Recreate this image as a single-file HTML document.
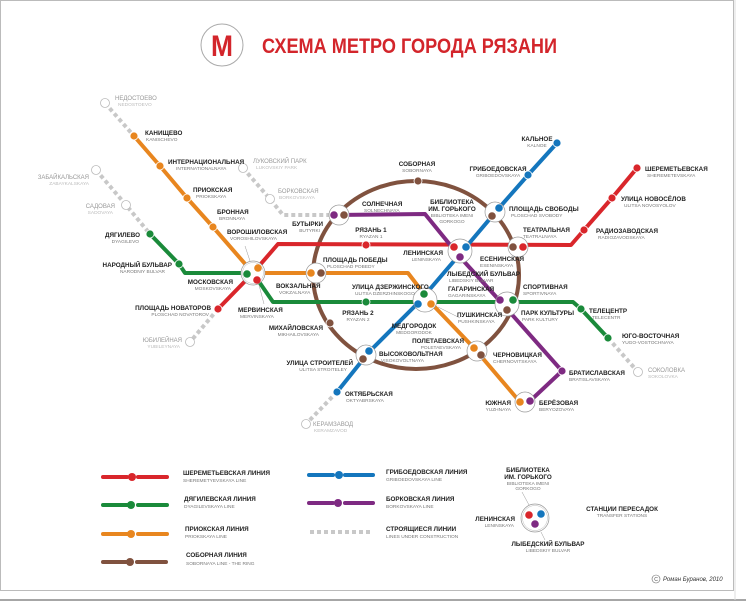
<!DOCTYPE html>
<html><head><meta charset="utf-8"><style>
html,body{margin:0;padding:0;background:#fff;}
svg{display:block;font-family:"Liberation Sans","DejaVu Sans",sans-serif;}
.n{font-size:6.3px;font-weight:bold;fill:#222;}
.s{font-size:4.8px;fill:#777;}
.g{font-size:6px;fill:#999;}
.gs{font-size:4.8px;fill:#bbb;}
.r{text-anchor:end;}
.c{text-anchor:middle;}
.ring{fill:#fff;stroke:#999;stroke-width:0.7;}
</style></head><body>
<svg width="746" height="604" viewBox="0 0 746 604" xmlns="http://www.w3.org/2000/svg">
<rect x="0.5" y="0.5" width="733" height="590" fill="#fff" stroke="#bbb" stroke-width="1"/>
<line x1="0" y1="600" x2="746" y2="600" stroke="#888" stroke-width="1.5"/>
<line x1="735" y1="0" x2="735" y2="600" stroke="#ddd" stroke-width="1"/>

<!-- title -->
<circle cx="222" cy="45" r="21" fill="#fff" stroke="#aaa" stroke-width="1"/>
<text x="222" y="56" text-anchor="middle" font-size="30" font-weight="bold" fill="#d3252b" textLength="22" lengthAdjust="spacingAndGlyphs">М</text>
<text x="262" y="53" font-size="21" font-weight="bold" fill="#d3252b" textLength="295" lengthAdjust="spacingAndGlyphs">СХЕМА МЕТРО ГОРОДА РЯЗАНИ</text>

<!-- construction lines -->
<g stroke="#c8c8c8" stroke-width="4" stroke-dasharray="4 3" fill="none">
<line x1="105" y1="103" x2="134" y2="136"/>
<polyline points="96,170 126,205 150,234"/>
<polyline points="243,168 270,199 283,215 333,215"/>
<line x1="218" y1="309" x2="190" y2="342"/>
<line x1="337" y1="392" x2="306" y2="424"/>
<line x1="608" y1="338" x2="638" y2="372"/>
</g>
<g fill="#fff" stroke="#bbb" stroke-width="0.8">
<circle cx="105" cy="103" r="4.5"/><circle cx="96" cy="170" r="4.5"/><circle cx="126" cy="205" r="4.5"/>
<circle cx="243" cy="168" r="4.5"/><circle cx="270" cy="199" r="4.5"/><circle cx="190" cy="342" r="4.5"/>
<circle cx="306" cy="424" r="4.5"/><circle cx="638" cy="372" r="4.5"/>
</g>

<!-- ring -->
<ellipse cx="416" cy="275" rx="103" ry="94" fill="none" stroke="#80523f" stroke-width="4"/>

<g fill="none" stroke-width="4" stroke-linejoin="round">
<polyline stroke="#e8861f" points="134,136 160,166 187,198 213,227 253,273 408,273 431,303 474,348 520,402"/>
<polyline stroke="#1a8a3a" points="150,234 179,264 185,273 253,273 273,302 573,302 581,309 608,338"/>
<polyline stroke="#d9262b" points="218,309 253,273 278,244 571,245 584,230 612,198 637,168"/>
<polyline stroke="#1476bd" points="557,143 528,175 499,208 466,247 418,303 369,352 337,392"/>
<polyline stroke="#7e2a82" points="334,215 425,214 460,257 499,300 562,371 530,401"/>
</g>

<g stroke="#fff" stroke-width="0.8">
<g fill="#e8861f"><circle cx="134" cy="136" r="4"/><circle cx="160" cy="166" r="4"/><circle cx="187" cy="198" r="4"/><circle cx="213" cy="227" r="4"/></g>
<g fill="#1a8a3a"><circle cx="150" cy="234" r="4"/><circle cx="179" cy="264" r="4"/><circle cx="366" cy="302" r="4"/><circle cx="581" cy="309" r="4"/><circle cx="608" cy="338" r="4"/></g>
<g fill="#d9262b"><circle cx="218" cy="309" r="4"/><circle cx="366" cy="245" r="4"/><circle cx="584" cy="230" r="4"/><circle cx="612" cy="198" r="4"/><circle cx="637" cy="168" r="4"/></g>
<g fill="#1476bd"><circle cx="557" cy="143" r="4"/><circle cx="528" cy="175" r="4"/><circle cx="337" cy="392" r="4"/></g>
<g fill="#7e2a82"><circle cx="562" cy="371" r="4"/></g>
<g fill="#80523f"><circle cx="418" cy="181" r="4"/><circle cx="330" cy="323" r="4"/></g>
</g>

<g>
<circle class="ring" cx="253" cy="273" r="12"/><circle cx="253" cy="273" r="10.5" fill="none" stroke="#bbb" stroke-width="0.5"/>
<circle cx="247" cy="274" r="3.8" fill="#1a8a3a"/><circle cx="258" cy="268" r="3.8" fill="#e8861f"/><circle cx="257" cy="280" r="3.8" fill="#d9262b"/>
<circle class="ring" cx="316" cy="273" r="10"/><circle cx="311" cy="273" r="3.8" fill="#e8861f"/><circle cx="321" cy="273" r="3.8" fill="#80523f"/>
<circle class="ring" cx="339" cy="215" r="10"/><circle cx="334" cy="215" r="3.8" fill="#7e2a82"/><circle cx="344" cy="215" r="3.8" fill="#80523f"/>
<circle class="ring" cx="495" cy="212" r="10"/><circle cx="499" cy="208" r="3.8" fill="#1476bd"/><circle cx="492" cy="216" r="3.8" fill="#80523f"/>
<circle class="ring" cx="518" cy="247" r="10"/><circle cx="513" cy="247" r="3.8" fill="#80523f"/><circle cx="523" cy="247" r="3.8" fill="#d9262b"/>
<circle class="ring" cx="460" cy="251" r="12"/><circle cx="454" cy="247" r="3.8" fill="#d9262b"/><circle cx="466" cy="247" r="3.8" fill="#1476bd"/><circle cx="460" cy="257" r="3.8" fill="#7e2a82"/>
<circle class="ring" cx="425" cy="300" r="12"/><circle cx="424" cy="294" r="3.8" fill="#1a8a3a"/><circle cx="418" cy="304" r="3.8" fill="#1476bd"/><circle cx="431" cy="304" r="3.8" fill="#e8861f"/>
<circle class="ring" cx="507" cy="304" r="12"/><circle cx="500" cy="300" r="3.8" fill="#7e2a82"/><circle cx="513" cy="300" r="3.8" fill="#1a8a3a"/><circle cx="507" cy="310" r="3.8" fill="#80523f"/>
<circle class="ring" cx="366" cy="355" r="10"/><circle cx="369" cy="351" r="3.8" fill="#1476bd"/><circle cx="363" cy="359" r="3.8" fill="#80523f"/>
<circle class="ring" cx="477" cy="351" r="10"/><circle cx="474" cy="348" r="3.8" fill="#e8861f"/><circle cx="481" cy="355" r="3.8" fill="#80523f"/>
<circle class="ring" cx="525" cy="402" r="10"/><circle cx="520" cy="402" r="3.8" fill="#e8861f"/><circle cx="530" cy="401" r="3.8" fill="#7e2a82"/>
</g>
<g stroke="#999" stroke-width="0.5"><line x1="245" y1="246" x2="250" y2="261"/><line x1="259" y1="285" x2="264" y2="304"/><line x1="438" y1="307" x2="460" y2="318"/></g>

<text class="g" x="115" y="100">НЕДОСТОЕВО</text><text class="gs" x="118" y="106">NEDOSTOEVO</text>
<text class="n" x="145" y="135">КАНИЩЕВО</text><text class="s" x="146" y="141">KANISCHEVO</text>
<text class="n" x="168" y="164">ИНТЕРНАЦИОНАЛЬНАЯ</text><text class="s" x="176" y="170">INTERNATIONALNAYA</text>
<text class="n" x="193" y="192">ПРИОКСКАЯ</text><text class="s" x="196" y="198">PRIOKSKAYA</text>
<text class="n" x="217" y="214">БРОННАЯ</text><text class="s" x="219" y="220">BRONNAYA</text>
<text class="n" x="227" y="234">ВОРОШИЛОВСКАЯ</text><text class="s" x="230" y="240">VOROSHILOVSKAYA</text>
<text class="g r" x="89" y="179">ЗАБАЙКАЛЬСКАЯ</text><text class="gs r" x="89" y="185">ZABAYKALSKAYA</text>
<text class="g r" x="115" y="208">САДОВАЯ</text><text class="gs r" x="113" y="214">SADOVAYA</text>
<text class="n r" x="140" y="237">ДЯГИЛЕВО</text><text class="s r" x="139" y="243">DYAGILEVO</text>
<text class="n r" x="172" y="267">НАРОДНЫЙ БУЛЬВАР</text><text class="s r" x="165" y="273">NARODNIY BULVAR</text>
<text class="n r" x="233" y="284">МОСКОВСКАЯ</text><text class="s r" x="231" y="290">MOSKOVSKAYA</text>
<text class="n r" x="211" y="310">ПЛОЩАДЬ НОВАТОРОВ</text><text class="s r" x="209" y="316">PLOSCHAD NOVATOROV</text>
<text class="g r" x="182" y="342">ЮБИЛЕЙНАЯ</text><text class="gs r" x="180" y="348">YUBILEYNAYA</text>
<text class="n" x="238" y="312">МЕРВИНСКАЯ</text><text class="s" x="240" y="318">MERVINSKAYA</text>
<text class="n" x="276" y="288">ВОКЗАЛЬНАЯ</text><text class="s" x="279" y="294">VOKZALNAYA</text>
<text class="g" x="253" y="163">ЛУКОВСКИЙ ПАРК</text><text class="gs" x="256" y="169">LUKOVSKIY PARK</text>
<text class="g" x="278" y="193">БОРКОВСКАЯ</text><text class="gs" x="279" y="199">BORKOVSKAYA</text>
<text class="n r" x="323" y="226">БУТЫРКИ</text><text class="s r" x="320" y="232">BUTYRKI</text>
<text class="n" x="362" y="206">СОЛНЕЧНАЯ</text><text class="s" x="364" y="212">SOLNECHNAYA</text>
<text class="n c" x="371" y="232">РЯЗАНЬ 1</text><text class="s c" x="371" y="238">RYAZAN 1</text>
<text class="n" x="323" y="262">ПЛОЩАДЬ ПОБЕДЫ</text><text class="s" x="327" y="268">PLOSCHAD POBEDY</text>
<text class="n" x="352" y="289">УЛИЦА ДЗЕРЖИНСКОГО</text><text class="s" x="355" y="295">ULITSA DZERZHINSKOGO</text>
<text class="n c" x="358" y="315">РЯЗАНЬ 2</text><text class="s c" x="358" y="321">RYAZAN 2</text>
<text class="n r" x="323" y="330">МИХАЙЛОВСКАЯ</text><text class="s r" x="319" y="336">MIKHAILOVSKAYA</text>
<text class="n r" x="353" y="365">УЛИЦА СТРОИТЕЛЕЙ</text><text class="s r" x="347" y="371">ULITSA STROITELEY</text>
<text class="n" x="345" y="396">ОКТЯБРЬСКАЯ</text><text class="s" x="346" y="402">OKTYABRSKAYA</text>
<text class="g" x="313" y="426">КЕРАМЗАВОД</text><text class="gs" x="314" y="432">KERAMZAVOD</text>
<text class="n c" x="417" y="166">СОБОРНАЯ</text><text class="s c" x="417" y="172">SOBORNAYA</text>
<text class="n c" x="537" y="141">КАЛЬНОЕ</text><text class="s c" x="537" y="147">KALNOE</text>
<text class="n c" x="498" y="171">ГРИБОЕДОВСКАЯ</text><text class="s c" x="498" y="177">GRIBOEDOVSKAYA</text>
<text class="n c" x="452" y="204">БИБЛИОТЕКА</text><text class="n c" x="452" y="211">ИМ. ГОРЬКОГО</text><text class="s c" x="452" y="217">BIBLIOTEKA IMENI</text><text class="s c" x="452" y="223">GORKOGO</text>
<text class="n" x="509" y="211">ПЛОЩАДЬ СВОБОДЫ</text><text class="s" x="511" y="217">PLOSCHAD SVOBODY</text>
<text class="n" x="523" y="232">ТЕАТРАЛЬНАЯ</text><text class="s" x="523" y="238">TEATRALNAYA</text>
<text class="n r" x="443" y="255">ЛЕНИНСКАЯ</text><text class="s r" x="441" y="261">LENINSKAYA</text>
<text class="n" x="480" y="261">ЕСЕНИНСКАЯ</text><text class="s" x="480" y="267">ESENINSKAYA</text>
<text class="n" x="447" y="276">ЛЫБЕДСКИЙ БУЛЬВАР</text><text class="s" x="449" y="282">LIBEDSKIY BULVAR</text>
<text class="n" x="448" y="291">ГАГАРИНСКАЯ</text><text class="s" x="448" y="297">GAGARINSKAYA</text>
<text class="n" x="523" y="289">СПОРТИВНАЯ</text><text class="s" x="523" y="295">SPORTIVNAYA</text>
<text class="n" x="457" y="317">ПУШКИНСКАЯ</text><text class="s" x="458" y="323">PUSHKINSKAYA</text>
<text class="n" x="521" y="315">ПАРК КУЛЬТУРЫ</text><text class="s" x="522" y="321">PARK KULTURY</text>
<text class="n c" x="414" y="328">МЕДГОРОДОК</text><text class="s c" x="414" y="334">MEDGORODOK</text>
<text class="n r" x="464" y="343">ПОЛЕТАЕВСКАЯ</text><text class="s r" x="461" y="349">POLETAEVSKAYA</text>
<text class="n" x="379" y="356">ВЫСОКОВОЛЬТНАЯ</text><text class="s" x="381" y="362">VISOKOVOLTNAYA</text>
<text class="n" x="493" y="357">ЧЕРНОВИЦКАЯ</text><text class="s" x="493" y="363">CHERNOVITSKAYA</text>
<text class="n" x="569" y="375">БРАТИСЛАВСКАЯ</text><text class="s" x="569" y="381">BRATISLAVSKAYA</text>
<text class="n r" x="511" y="405">ЮЖНАЯ</text><text class="s r" x="511" y="411">YUZHNAYA</text>
<text class="n" x="539" y="405">БЕРЁЗОВАЯ</text><text class="s" x="539" y="411">BERYOZOVAYA</text>
<text class="n" x="645" y="171">ШЕРЕМЕТЬЕВСКАЯ</text><text class="s" x="647" y="177">SHEREMETEVSKAYA</text>
<text class="n" x="621" y="201">УЛИЦА НОВОСЁЛОВ</text><text class="s" x="624" y="207">ULITSA NOVOSYOLOV</text>
<text class="n" x="596" y="233">РАДИОЗАВОДСКАЯ</text><text class="s" x="598" y="239">RADIOZAVODSKAYA</text>
<text class="n" x="589" y="313">ТЕЛЕЦЕНТР</text><text class="s" x="592" y="319">TELECENTR</text>
<text class="n" x="622" y="338">ЮГО-ВОСТОЧНАЯ</text><text class="s" x="622" y="344">YUGO-VOSTOCHNAYA</text>
<text class="g" x="648" y="372">СОКОЛОВКА</text><text class="gs" x="648" y="378">SOKOLOVKA</text>

<!-- legend -->
<g stroke-width="4" stroke-linecap="round">
<line x1="103" y1="477" x2="127" y2="477" stroke="#d9262b"/><line x1="138" y1="477" x2="167" y2="477" stroke="#d9262b"/>
<line x1="103" y1="505" x2="127" y2="505" stroke="#1a8a3a"/><line x1="138" y1="505" x2="167" y2="505" stroke="#1a8a3a"/>
<line x1="103" y1="534" x2="127" y2="534" stroke="#e8861f"/><line x1="138" y1="534" x2="167" y2="534" stroke="#e8861f"/>
<line x1="103" y1="562" x2="126" y2="562" stroke="#80523f"/><line x1="137" y1="562" x2="166" y2="562" stroke="#80523f"/>
<line x1="309" y1="475" x2="333" y2="475" stroke="#1476bd"/><line x1="345" y1="475" x2="373" y2="475" stroke="#1476bd"/>
<line x1="309" y1="503" x2="333" y2="503" stroke="#7e2a82"/><line x1="345" y1="503" x2="373" y2="503" stroke="#7e2a82"/>
</g>
<line x1="310" y1="532" x2="372" y2="532" stroke="#c8c8c8" stroke-width="4" stroke-dasharray="4 3"/>
<circle cx="132" cy="477" r="4" fill="#d9262b"/><circle cx="131" cy="505" r="4" fill="#1a8a3a"/>
<circle cx="131" cy="534" r="4" fill="#e8861f"/><circle cx="130" cy="562" r="4" fill="#80523f"/>
<circle cx="339" cy="475" r="4" fill="#1476bd"/><circle cx="338" cy="503" r="4" fill="#7e2a82"/>
<text class="n" x="183" y="475">ШЕРЕМЕТЬЕВСКАЯ ЛИНИЯ</text><text class="s" x="183" y="482">SHEREMETYEVSKAYA LINE</text>
<text class="n" x="184" y="501">ДЯГИЛЕВСКАЯ ЛИНИЯ</text><text class="s" x="184" y="508">DYAGILEVSKAYA LINE</text>
<text class="n" x="185" y="531">ПРИОКСКАЯ ЛИНИЯ</text><text class="s" x="185" y="538">PRIOKSKAYA LINE</text>
<text class="n" x="186" y="557">СОБОРНАЯ ЛИНИЯ</text><text class="s" x="186" y="565">SOBORNAYA LINE - THE RING</text>
<text class="n" x="386" y="474">ГРИБОЕДОВСКАЯ ЛИНИЯ</text><text class="s" x="386" y="481">GRIBOEDOVSKAYA LINE</text>
<text class="n" x="386" y="501">БОРКОВСКАЯ ЛИНИЯ</text><text class="s" x="386" y="508">BORKOVSKAYA LINE</text>
<text class="n" x="386" y="531">СТРОЯЩИЕСЯ ЛИНИИ</text><text class="s" x="386" y="538">LINES UNDER CONSTRUCTION</text>
<circle class="ring" cx="535" cy="518" r="14"/><circle cx="535" cy="518" r="12.5" fill="none" stroke="#bbb" stroke-width="0.5"/>
<circle cx="529" cy="515" r="3.8" fill="#d9262b"/><circle cx="541" cy="514" r="3.8" fill="#1476bd"/><circle cx="535" cy="524" r="3.8" fill="#7e2a82"/>
<g stroke="#999" stroke-width="0.5"><line x1="522" y1="492" x2="529" y2="505"/><line x1="541" y1="532" x2="545" y2="540"/></g>
<text class="n c" x="528" y="472">БИБЛИОТЕКА</text><text class="n c" x="528" y="479">ИМ. ГОРЬКОГО</text><text class="s c" x="528" y="485">BIBLIOTEKA IMENI</text><text class="s c" x="528" y="490">GORKOGO</text>
<text class="n r" x="515" y="521">ЛЕНИНСКАЯ</text><text class="s r" x="514" y="527">LENINSKAYA</text>
<text class="n c" x="548" y="546">ЛЫБЕДСКИЙ БУЛЬВАР</text><text class="s c" x="548" y="552">LIBEDSKIY BULVAR</text>
<text class="n c" x="622" y="511">СТАНЦИИ ПЕРЕСАДОК</text><text class="s c" x="622" y="517">TRANSFER STATIONS</text>
<circle cx="656" cy="579" r="4" fill="none" stroke="#666" stroke-width="0.6"/><text x="656" y="581" text-anchor="middle" font-size="5" fill="#444">C</text>
<text x="663" y="581" font-size="6" font-style="italic" fill="#333">Роман Буранов, 2010</text>
</svg>
</body></html>
